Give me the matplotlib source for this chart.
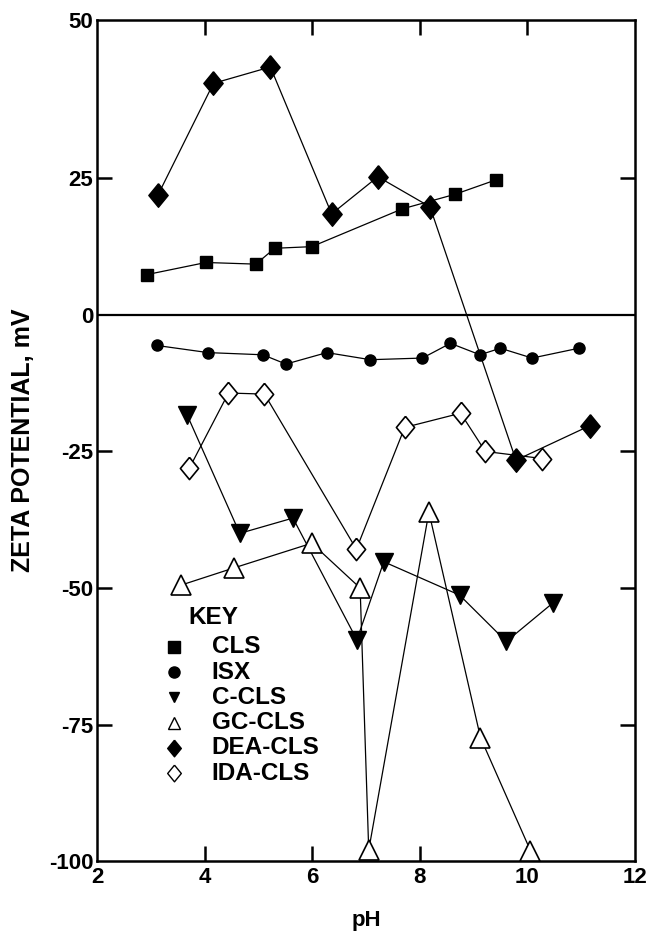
import numpy as np
import matplotlib
matplotlib.use("Agg")
from matplotlib import pyplot as plt

plt.rcParams['font.family'] = ['Liberation Sans', 'DejaVu Sans']
plt.rcParams['font.weight'] = 'bold'

# zeta potential (mV) vs pH for each sorbent
cls_ph = [2.93, 4.02, 4.95, 5.30, 5.99, 7.67, 8.66, 9.41]
cls_zeta = [7.4, 9.6, 9.3, 12.2, 12.5, 19.4, 22.1, 24.7]

isx_ph = [3.11, 4.06, 5.08, 5.51, 6.27, 7.08, 8.05, 8.57, 9.12, 9.50, 10.09, 10.96]
isx_zeta = [-5.6, -6.9, -7.3, -9.0, -6.9, -8.2, -7.9, -5.2, -7.3, -6.1, -7.9, -6.1]

ccls_ph = [3.67, 4.65, 5.64, 6.83, 7.33, 8.74, 9.61, 10.47]
ccls_zeta = [-18.3, -40.0, -37.2, -59.5, -45.2, -51.3, -59.8, -52.8]

gccls_ph = [3.55, 4.55, 5.99, 6.89, 7.05, 8.17, 9.13, 10.06]
gccls_zeta = [-49.5, -46.3, -41.8, -50.0, -98.0, -36.1, -77.4, -98.1]

dea_ph = [3.13, 4.16, 5.22, 6.36, 7.22, 8.19, 9.79, 11.16]
dea_zeta = [22.0, 42.4, 45.4, 18.5, 25.3, 19.8, -26.6, -20.3]

ida_ph = [3.71, 4.44, 5.11, 6.82, 7.72, 8.76, 9.22, 10.28]
ida_zeta = [-28.1, -14.3, -14.5, -42.9, -20.6, -18.0, -25.0, -26.3]

key_names = ['CLS', 'ISX', 'C-CLS', 'GC-CLS', 'DEA-CLS', 'IDA-CLS']

x_ticks = [2, 4, 6, 8, 10, 12]
y_top = 54.0
y_ticks = [-100, -75, -50, -25, 0, 25, y_top]
y_tick_labels = ['-100', '-75', '-50', '-25', '0', '25', '50']

# slightly tall diamond
diamond = [(0, 1), (0.82, 0), (0, -1), (-0.82, 0), (0, 1)]

styles = [
    dict(marker='s', ms=9, mfc='black', mec='black'),
    dict(marker='o', ms=8, mfc='black', mec='black'),
    dict(marker='v', ms=13, mfc='black', mec='black'),
    dict(marker='^', ms=14, mfc='white', mec='black', mew=1.2),
    dict(marker=diamond, ms=17, mfc='black', mec='black'),
    dict(marker=diamond, ms=16, mfc='white', mec='black', mew=1.2),
]
key_styles = [
    dict(marker='s', ms=8, mfc='black', mec='black'),
    dict(marker='o', ms=8, mfc='black', mec='black'),
    dict(marker='v', ms=7, mfc='black', mec='black'),
    dict(marker='^', ms=8, mfc='white', mec='black', mew=1.0),
    dict(marker=diamond, ms=12, mfc='black', mec='black'),
    dict(marker=diamond, ms=12, mfc='white', mec='black', mew=1.0),
]

series = [
    (cls_ph, cls_zeta),
    (isx_ph, isx_zeta),
    (ccls_ph, ccls_zeta),
    (gccls_ph, gccls_zeta),
    (dea_ph, dea_zeta),
    (ida_ph, ida_zeta),
]

fig = plt.figure(figsize=(6.49, 9.35), dpi=100)
ax = fig.add_axes([0.150, 0.0791, 0.828, 0.8995])

ax.axhline(0, color='black', lw=1.6, zorder=1)

for (x, y), st in zip(series, styles):
    ax.plot(x, y, color='black', lw=0.9, zorder=3, **st)

ax.set_xlim(2, 12)
ax.set_ylim(-100, y_top)
ax.set_xticks(x_ticks)
ax.set_yticks(y_ticks)
ax.set_yticklabels(y_tick_labels)

for s in ax.spines.values():
    s.set_linewidth(1.8)

ax.tick_params(direction='in', length=11, width=1.8, labelsize=16,
               top=True, right=True, pad=4)
ax.tick_params(axis='y', pad=3)
for lab in ax.get_xticklabels() + ax.get_yticklabels():
    lab.set_fontweight('bold')
# no tick marks drawn on the end positions
for t in ax.xaxis.get_major_ticks()[::5]:
    t.tick1line.set_visible(False)
    t.tick2line.set_visible(False)
yt = ax.yaxis.get_major_ticks()
for i in (0, 4, 6):
    yt[i].tick1line.set_visible(False)
    yt[i].tick2line.set_visible(False)

ax.set_xlabel('pH', fontsize=16, fontweight='bold', labelpad=16)
ax.set_ylabel('ZETA POTENTIAL, mV', fontsize=18, fontweight='bold', labelpad=10)

# key
ax.text(0.170, 0.289, 'KEY', transform=ax.transAxes, fontsize=17.5,
        fontweight='bold', va='center', ha='left')
row_y = 0.2545
for name, st in zip(key_names, key_styles):
    ax.plot([0.142], [row_y], transform=ax.transAxes, color='black',
            ls='none', clip_on=False, **st)
    ax.text(0.213, row_y, name, transform=ax.transAxes, fontsize=17.5,
            fontweight='bold', va='center', ha='left')
    row_y -= 0.0300

fig.savefig('out.png', dpi=100)
